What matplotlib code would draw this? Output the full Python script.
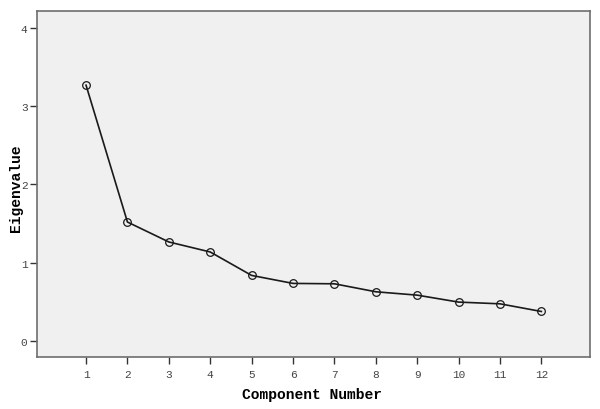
import matplotlib
matplotlib.use("Agg")
import matplotlib.pyplot as plt

components = list(range(1, 13))
eigenvalues = [3.27, 1.52, 1.265, 1.137, 0.837, 0.735, 0.73, 0.628, 0.585, 0.496, 0.474, 0.376]
y_ticks = [0, 1, 2, 3, 4]

fig = plt.figure(figsize=(6, 4.1), dpi=100)
ax = fig.add_axes([0.062, 0.128, 0.921, 0.843])
ax.set_facecolor("#f0f0f0")

ax.plot(components, eigenvalues, color="#1a1a1a", linewidth=1.2,
        marker="o", markersize=5.5, markerfacecolor="none",
        markeredgecolor="#1a1a1a", markeredgewidth=0.9)

ax.set_xlim(-0.18, 13.17)
ax.set_ylim(-0.2, 4.22)
ax.set_xticks(components)
ax.set_yticks(y_ticks)

for s in ax.spines.values():
    s.set_color("#6e6e6e")
    s.set_linewidth(1.2)

ax.tick_params(axis="both", direction="out", length=5, width=1,
               color="#333333", labelcolor="#444444", labelsize=8, pad=2)
ax.tick_params(axis="x", pad=4)
for lab in ax.get_xticklabels() + ax.get_yticklabels():
    lab.set_family("Liberation Mono")

ax.set_xlabel("Component Number", family="Liberation Mono", fontweight="bold",
              fontsize=10.5)
ax.set_ylabel("Eigenvalue", family="Liberation Mono", fontweight="bold",
              fontsize=10.5)
ax.xaxis.set_label_coords(0.497, -0.108)
ax.yaxis.set_label_coords(-0.038, 0.49)
ax.xaxis.label.set_va("center")
ax.yaxis.label.set_va("center")

fig.savefig("out.png", dpi=100)
